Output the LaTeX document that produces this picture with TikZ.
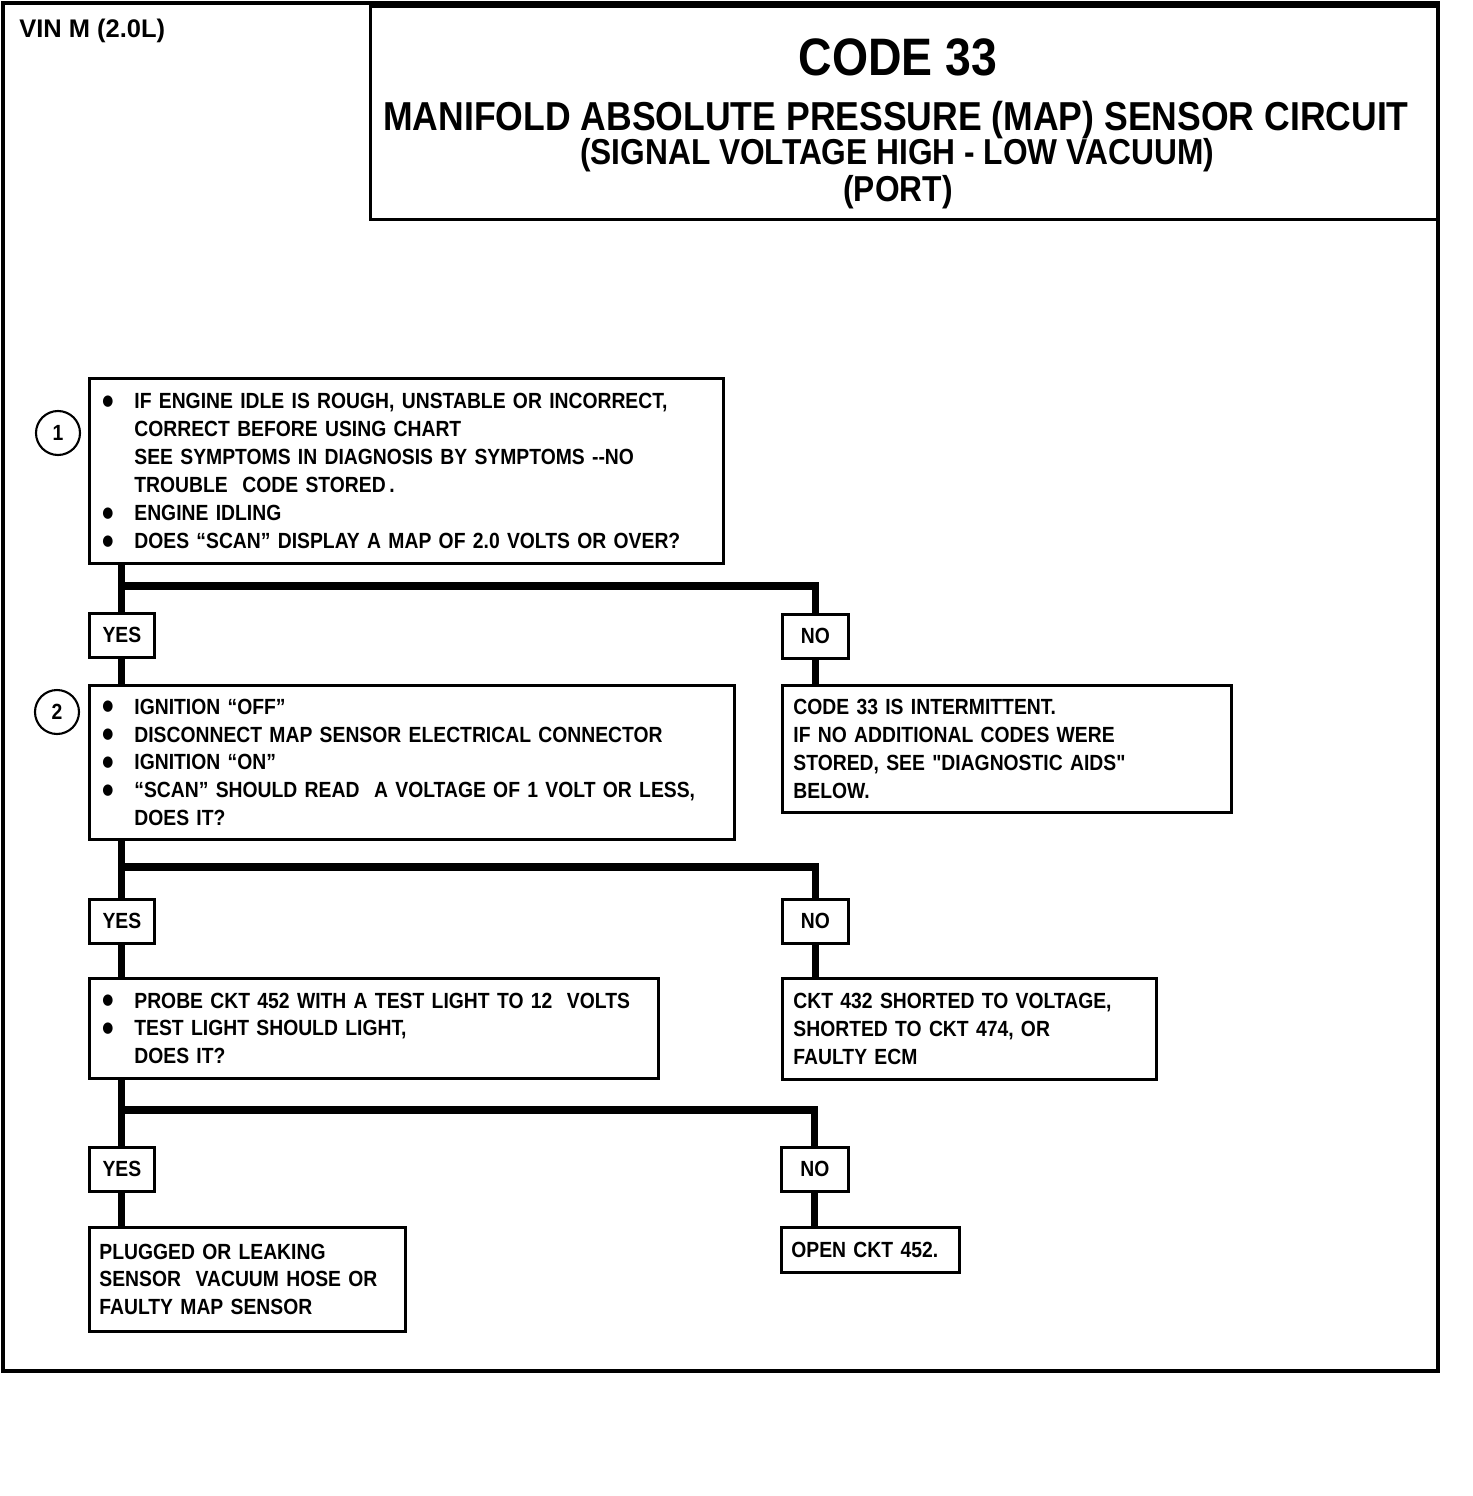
\documentclass[tikz,border=0pt]{standalone}
\usepackage{fontspec}
\setmainfont{Liberation Sans}[FakeStretch=0.88, Ligatures=TeXOff]
\newfontfamily\vinfont{Liberation Sans}
\newfontfamily\dotfont{DejaVu Sans}[FakeStretch=0.85]
\usetikzlibrary{positioning,calc}

\newcommand{\bodyfont}{\fontsize{12.5}{15.9}\selectfont\bfseries}
\newcommand{\bul}{\makebox[0.64cm][l]{\raisebox{1.8pt}{\dotfont\fontsize{8.5}{9}\selectfont ●}}}
\newcommand{\ind}{\hspace*{0.64cm}}

\begin{document}
\begin{tikzpicture}[
    x=0.02cm, y=-0.02cm,
    box/.style={draw, line width=1.6pt, anchor=north west, align=left, inner xsep=0.26cm, inner ysep=0pt, font=\bodyfont},
    answer/.style={draw, line width=1.6pt, anchor=north west, inner sep=0pt, minimum height=0.88cm, font=\bodyfont},
    stepnum/.style={draw, circle, line width=1.2pt, inner sep=0pt, minimum size=0.88cm, font=\bodyfont},
    link/.style={line width=4pt}
]
    \useasboundingbox (0,0) rectangle (1472,1496);

    % Frame and heading
    \draw[line width=2.2pt] (3,3) rectangle (1438,1371);
    \node[draw, line width=1.7pt, anchor=north west, minimum width=21.34cm, minimum height=4.26cm] (head) at (369,5) {};
    \node[anchor=west, inner sep=0pt, font=\vinfont\fontsize{14.5}{17}\selectfont\bfseries] (vin) at (19,31) {VIN M (2.0L)};
    \node[font=\fontsize{30}{36}\selectfont\bfseries] (code) at (898,57) {CODE 33};
    \node[font=\fontsize{23}{28}\selectfont\bfseries] (circuit) at (896,120) {MANIFOLD ABSOLUTE PRESSURE (MAP) SENSOR CIRCUIT};
    \node[font=\fontsize{20.5}{24}\selectfont\bfseries] (signal) at (897,155) {(SIGNAL VOLTAGE HIGH - LOW VACUUM)};
    \node[font=\fontsize{20.5}{24}\selectfont\bfseries] (port) at (898,192) {(PORT)};

    % Step 1
    \node[box, minimum width=12.68cm, minimum height=3.7cm, text width=12.16cm] (step1) at (88,377)
        {\bul IF ENGINE IDLE IS ROUGH, UNSTABLE OR INCORRECT,\\
         \ind CORRECT BEFORE USING CHART\\
         \ind SEE SYMPTOMS IN DIAGNOSIS BY SYMPTOMS --NO\\
         \ind TROUBLE~ CODE STORED\,.\\
         \bul ENGINE IDLING\\
         \bul DOES “SCAN” DISPLAY A MAP OF 2.0 VOLTS OR OVER?};
    \node[stepnum] (num1) at (58,433) {1};
    \node[answer, minimum width=1.3cm] (yes1) at (88,612) {YES};
    \node[answer, minimum width=1.32cm] (no1) at (781,613) {NO};
    \node[box, minimum width=8.98cm, minimum height=2.54cm, text width=8.54cm, inner xsep=0.22cm] (intermit) at (781,684)
        {CODE 33 IS INTERMITTENT.\\
         IF NO ADDITIONAL CODES WERE\\
         STORED, SEE "DIAGNOSTIC AIDS"\\
         BELOW.};

    % Step 2
    \node[box, minimum width=12.9cm, minimum height=3.08cm, text width=12.38cm] (step2) at (88,684)
        {\bul IGNITION “OFF”\\
         \bul DISCONNECT MAP SENSOR ELECTRICAL CONNECTOR\\
         \bul IGNITION “ON”\\
         \bul “SCAN” SHOULD READ~ A VOLTAGE OF 1 VOLT OR LESS,\\
         \ind DOES IT?};
    \node[stepnum] (num2) at (57,712) {2};
    \node[answer, minimum width=1.3cm] (yes2) at (88,898) {YES};
    \node[answer, minimum width=1.32cm] (no2) at (781,898) {NO};
    \node[box, minimum width=7.48cm, minimum height=2.02cm, text width=7.04cm, inner xsep=0.22cm] (shorted) at (781,977)
        {CKT 432 SHORTED TO VOLTAGE,\\
         SHORTED TO CKT 474, OR\\
         FAULTY ECM};

    % Step 3
    \node[box, minimum width=11.38cm, minimum height=2.0cm, text width=10.86cm] (step3) at (88,977)
        {\bul PROBE CKT 452 WITH A TEST LIGHT TO 12~ VOLTS\\
         \bul TEST LIGHT SHOULD LIGHT,\\
         \ind DOES IT?};
    \node[answer, minimum width=1.3cm] (yes3) at (88,1146) {YES};
    \node[answer, minimum width=1.34cm] (no3) at (780,1146) {NO};
    \node[box, minimum width=6.32cm, minimum height=2.08cm, text width=5.92cm, inner xsep=0.2cm] (plugged) at (88,1226)
        {PLUGGED OR LEAKING\\
         SENSOR~ VACUUM HOSE OR\\
         FAULTY MAP SENSOR};
    \node[box, minimum width=3.56cm, minimum height=0.9cm, text width=3.16cm, inner xsep=0.2cm] (open) at (780,1226)
        {OPEN CKT 452.};

    % Branch points
    \coordinate (fork1) at (120,586);
    \coordinate (fork2) at (120,867);
    \coordinate (fork3) at (120,1110);

    % Connectors
    \draw[link] (yes1.north |- step1.south) -- (yes1.north);
    \draw[link] (fork1) -| (no1.north);
    \draw[link] (yes1.south) -- (yes1.south |- step2.north);
    \draw[link] (no1.south) -- (no1.south |- intermit.north);

    \draw[link] (yes2.north |- step2.south) -- (yes2.north);
    \draw[link] (fork2) -| (no2.north);
    \draw[link] (yes2.south) -- (yes2.south |- step3.north);
    \draw[link] (no2.south) -- (no2.south |- shorted.north);

    \draw[link] (yes3.north |- step3.south) -- (yes3.north);
    \draw[link] (fork3) -| (no3.north);
    \draw[link] (yes3.south) -- (yes3.south |- plugged.north);
    \draw[link] (no3.south) -- (no3.south |- open.north);
\end{tikzpicture}
\end{document}
